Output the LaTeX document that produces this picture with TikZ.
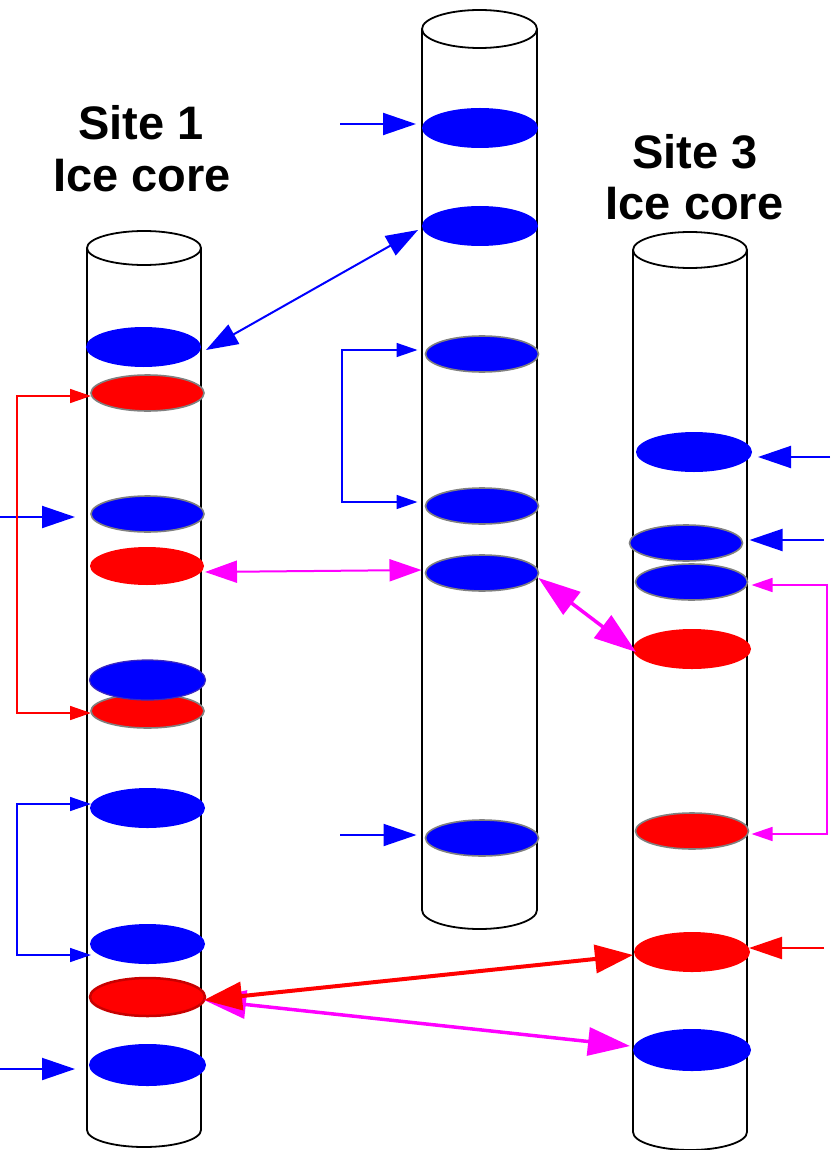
\documentclass[tikz,border=0pt]{standalone}
\usepackage{fontspec}
\setmainfont{Liberation Sans}
\usetikzlibrary{shapes.geometric,arrows.meta,calc}
\definecolor{pblue}{RGB}{0,0,255}
\definecolor{pred}{RGB}{255,0,0}
\definecolor{pmag}{RGB}{255,0,255}
\definecolor{rimgray}{RGB}{128,128,128}
\definecolor{rimblue}{RGB}{60,40,190}
\definecolor{rimred}{RGB}{200,0,0}
\newcommand{\icecyl}[6]{% name, xc, rx, ytop, ry, ybot
  \draw[cylline] ({#2-#3},#4) -- ({#2-#3},#6)
     arc[start angle=180, end angle=0, x radius=#3, y radius=#5]
     -- ({#2+#3},#4);
  \draw[cylline] (#2,#4) ellipse[x radius=#3, y radius=#5];
  \coordinate (#1) at (#2,#4);
}
\begin{document}
\begin{tikzpicture}[x=1pt,y=-1pt,
  cylline/.style={draw=black, line width=1.8pt, fill=white},
  disc/.style={ellipse, inner sep=0pt, outer sep=0pt},
  bd/.style={disc, fill=pblue},
  rd/.style={disc, fill=pred},
  grim/.style={draw=rimgray, line width=1.6pt},
  title/.style={font=\bfseries\fontsize{47}{53}\selectfont, anchor=base, inner sep=0pt},
  inarr/.style={line width=2pt, -{Triangle[length=33pt,width=22pt]}},
  brk/.style={line width=1.5pt, {Triangle[length=21pt,width=14pt]}-{Triangle[length=21pt,width=14pt]}},
  dbl/.style={line width=2pt, {Triangle[length=32pt,width=22pt]}-{Triangle[length=32pt,width=22pt]}},
  thick dbl/.style={line width=4pt, {Triangle[length=38pt,width=28pt]}-{Triangle[length=38pt,width=28pt]}},
  mag thick/.style={line width=3.5pt, {Triangle[length=42pt,width=28pt]}-{Triangle[length=42pt,width=28pt]}},
]
\useasboundingbox (0,0) rectangle (830,1150);
\fill[white] (0,0) rectangle (830,1150);

% titles
\node[title] (s1a) at (141,140) {Site 1};
\node[title] (s1b) at (142,192) {Ice core};
\node[title] (s3a) at (695,169) {Site 3};
\node[title] (s3b) at (694.5,220) {Ice core};

% cylinders
\icecyl{c1}{144}{57}{248}{17}{1130}
\icecyl{c2}{479.5}{57.5}{29}{19}{910}
\icecyl{c3}{690}{57}{250}{18}{1132}

% discs, core 1
\node[bd, minimum width=115pt, minimum height=40pt] (d1a) at (143.5,347) {};
\node[rd, grim, minimum width=113pt, minimum height=36pt] (d1b) at (147.5,393) {};
\node[bd, grim, minimum width=113pt, minimum height=36pt] (d1c) at (147.5,514) {};
\node[rd, minimum width=114pt, minimum height=38pt] (d1d) at (147,566) {};
\node[rd, grim, minimum width=113pt, minimum height=34pt] (d1f) at (147.5,711) {};
\node[bd, draw=rimblue, line width=1.2pt, minimum width=116pt, minimum height=40pt] (d1e) at (147.5,680) {};
\node[bd, minimum width=115pt, minimum height=40pt] (d1g) at (147.5,808) {};
\node[bd, minimum width=115pt, minimum height=40pt] (d1h) at (147.5,944) {};
\node[rd, draw=rimred, line width=2.5pt, minimum width=115pt, minimum height=38pt] (d1i) at (147.5,997) {};
\node[bd, minimum width=117pt, minimum height=42pt] (d1j) at (147.5,1065) {};

% discs, core 2
\node[bd, minimum width=116pt, minimum height=40pt] (d2a) at (480,128) {};
\node[bd, minimum width=116pt, minimum height=40pt] (d2b) at (480,226) {};
\node[bd, grim, minimum width=113pt, minimum height=36pt] (d2c) at (482,354) {};
\node[bd, grim, minimum width=113pt, minimum height=36pt] (d2d) at (482,506) {};
\node[bd, grim, minimum width=113pt, minimum height=36pt] (d2e) at (482,573) {};
\node[bd, grim, minimum width=113pt, minimum height=36pt] (d2f) at (482,838) {};

% discs, core 3
\node[bd, minimum width=116pt, minimum height=40pt] (d3a) at (694,452) {};
\node[bd, grim, minimum width=113pt, minimum height=36pt] (d3b) at (686,543) {};
\node[bd, grim, minimum width=112pt, minimum height=36pt] (d3c) at (691.5,582) {};
\node[rd, minimum width=118pt, minimum height=40pt] (d3d) at (692,649) {};
\node[rd, grim, minimum width=113pt, minimum height=36pt] (d3e) at (692,831) {};
\node[rd, minimum width=116pt, minimum height=40pt] (d3f) at (692,952) {};
\node[bd, minimum width=118pt, minimum height=42pt] (d3g) at (692,1050) {};

% free ends and bracket columns
\coordinate (e2a) at (340,124);
\coordinate (e2f) at (340,835);
\coordinate (e1c) at (0,517);
\coordinate (e1j) at (0,1069);
\coordinate (e3a) at (830,457);
\coordinate (e3b) at (824,540);
\coordinate (e3f) at (824,948);
\coordinate (colL) at (17,0);
\coordinate (colM) at (342,0);
\coordinate (colR) at (827,0);

% single arrows
\draw[inarr, pblue] (e2a) -- ($(d2a.west)+(-6,-4)$);
\draw[inarr, pblue] (e2f) -- ($(d2f.west)+(-9,-3)$);
\draw[inarr, pblue] (e1c) -- ($(d1c.west)+(-16,3)$);
\draw[inarr, pblue] (e1j) -- ($(d1j.west)+(-14,4)$);
\draw[inarr, pblue] (e3a) -- ($(d3a.east)+(6,5)$);
\draw[inarr, pblue] (e3b) -- ($(d3b.east)+(7,-3)$);
\draw[inarr, pred] (e3f) -- ($(d3f.east)+(-1,-4)$);

% brackets
\coordinate (b1t) at ($(d1b.west)+(0,3)$);
\coordinate (b1b) at ($(d1f.west)+(0,2)$);
\draw[brk, pred] (b1t) -- (b1t -| colL) |- (b1b);
\coordinate (b2t) at ($(d1g.west)+(1,-4)$);
\coordinate (b2b) at ($(d1h.west)+(1,11)$);
\draw[brk, pblue] (b2t) -- (b2t -| colL) |- (b2b);
\coordinate (b3t) at ($(d2c.west)+(-8,-4)$);
\coordinate (b3b) at ($(d2d.west)+(-8,-4)$);
\draw[brk, pblue] (b3t) -- (b3t -| colM) |- (b3b);
\coordinate (b4t) at ($(d3c.east)+(4,3)$);
\coordinate (b4b) at ($(d3e.east)+(3,3)$);
\draw[brk, pmag] (b4t) -- (b4t -| colR) |- (b4b);

% double arrows between cores
\draw[dbl, pblue] ($(d1a.east)+(5,3)$) -- ($(d2b.west)+(-4,4)$);
\draw[dbl, pmag] ($(d1d.east)+(1,6)$) -- ($(d2e.west)+(-4,-3)$);
\draw[mag thick, pmag] ($(d2e.east)+(0,5)$) -- ($(d3d.west)+(3,3)$);
\draw[mag thick, pmag] ($(d1i.east)+(-1,3)$) -- ($(d3g.west)+(-3,-4)$);
\draw[thick dbl, pred] ($(d1i.east)+(-1,3)$) -- ($(d3f.west)+(-1,3)$);
\end{tikzpicture}
\end{document}
